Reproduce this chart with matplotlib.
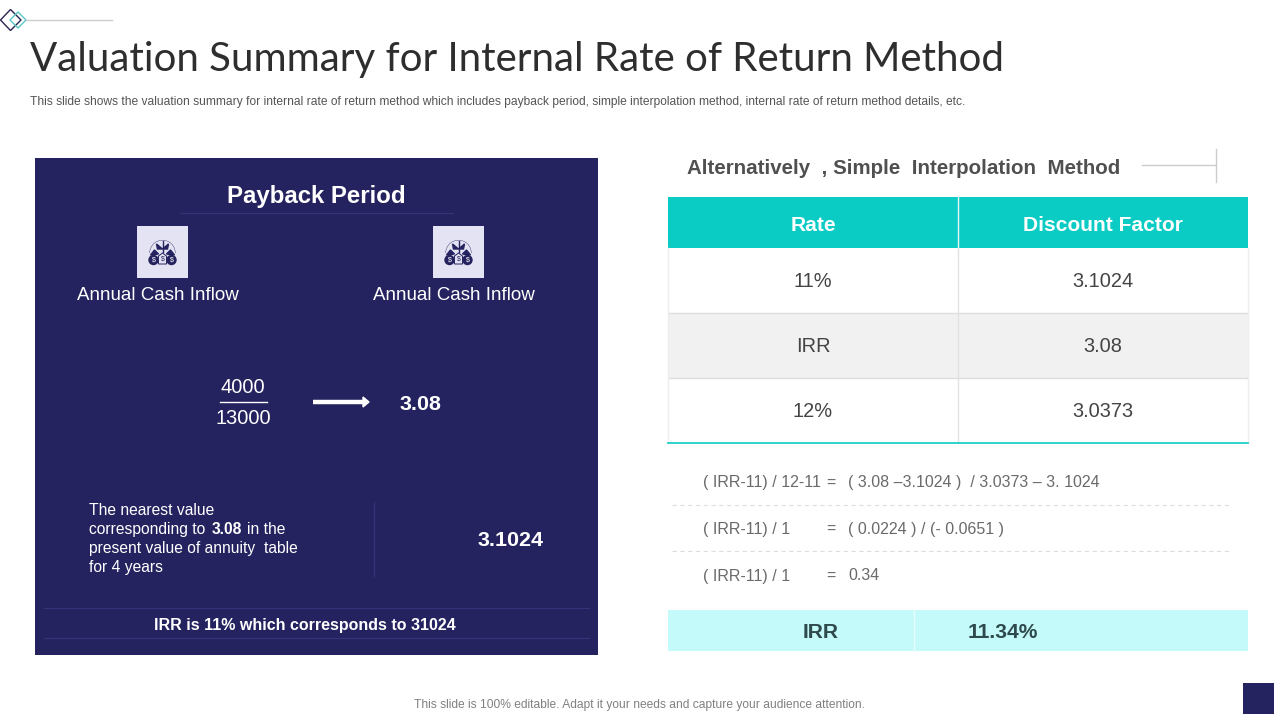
import matplotlib
matplotlib.use("Agg")
import matplotlib.pyplot as plt
from matplotlib.patches import Rectangle, Polygon, Circle, Wedge

NAVY = "#25235f"
TEAL = "#0bcbc5"
GREY = "#555555"

title = "Valuation Summary for Internal Rate of Return Method"
subtitle = ("This slide shows the valuation summary for internal rate of return method which includes "
            "payback period, simple interpolation method, internal rate of return method details, etc.")
footer = "This slide is 100% editable. Adapt it your needs and capture your audience attention."

table_header = ["Rate", "Discount Factor"]
rates = ["11%", "IRR", "12%"]
factors = ["3.1024", "3.08", "3.0373"]

formula_left = ["( IRR-11) / 12-11", "( IRR-11) / 1", "( IRR-11) / 1"]
formula_right = ["( 3.08 \u20133.1024 )  / 3.0373 \u2013 3. 1024", "( 0.0224 ) / (- 0.0651 )", "0.34"]

plt.rcParams["font.family"] = ["Liberation Sans", "DejaVu Sans"]

fig = plt.figure(figsize=(12.8, 7.2), dpi=100)
ax = fig.add_axes([0, 0, 1, 1])
ax.set_xlim(0, 1280)
ax.set_ylim(720, 0)
ax.axis("off")


def px(size):
    return size * 0.72


def label(x, y, s, size=18, color="white", weight="normal", ha="center", **kw):
    # va center sits a bit high for this font
    ax.text(x, y + 1, s, fontsize=px(size), color=color, fontweight=weight, ha=ha, va="center", **kw)


def rect(x, y, w, h, color, z=1):
    ax.add_patch(Rectangle((x, y), w, h, facecolor=color, edgecolor="none", zorder=z))


def icon(x, y):
    # small money plant icon on a pale square
    rect(x, y, 51, 52, "#e3e3f3", 2)
    cx, cy = x + 25.5, y + 27
    ax.add_patch(Wedge((cx, cy), 13, 180, 360, width=0.4, facecolor=NAVY, zorder=3))
    ax.plot([cx, cx], [cy - 12, cy - 1], color=NAVY, lw=1, zorder=3)
    ax.add_patch(Polygon([(cx, cy - 4), (cx - 6, cy - 9), (cx - 5, cy - 4)], color=NAVY, zorder=3))
    ax.add_patch(Polygon([(cx, cy - 4), (cx + 6, cy - 9), (cx + 5, cy - 4)], color=NAVY, zorder=3))
    ax.add_patch(Polygon([(cx - 12, cy + 2), (cx - 8, cy - 3), (cx - 4, cy + 1)], color=NAVY, zorder=3))
    ax.add_patch(Polygon([(cx + 12, cy + 2), (cx + 8, cy - 3), (cx + 4, cy + 1)], color=NAVY, zorder=3))
    for dx in (-9, 9):
        ax.add_patch(Circle((cx + dx, cy + 7), 4.5, color=NAVY, zorder=3))
        ax.text(cx + dx, cy + 7, "$", fontsize=5, color="white", ha="center", va="center", zorder=4)
    ax.add_patch(Polygon([(cx - 4, cy + 11), (cx - 4, cy + 3), (cx, cy), (cx + 4, cy + 3), (cx + 4, cy + 11)],
                         facecolor="#e3e3f3", edgecolor=NAVY, lw=0.7, zorder=3))
    ax.text(cx, cy + 6, "$", fontsize=5, color=NAVY, ha="center", va="center", zorder=4)


# corner mark
ax.add_patch(Polygon([(10.5, 9.5), (21, 20), (10.5, 30.5), (0.5, 20)], fill=False, edgecolor="#2b2550", lw=1))
ax.add_patch(Polygon([(18, 12), (26, 20), (18, 28), (10, 20)], fill=False, edgecolor="#5cc6c6", lw=1))
ax.plot([26, 112], [20, 20], color="#cccccc", lw=1)

# heading
ax.text(30, 59, title, fontsize=px(40.2), color="#2e2e2e", family=["Lato", "DejaVu Sans"], ha="left", va="center")
label(30, 100.5, subtitle, size=12.0, color=GREY, ha="left")
label(639, 704, footer, size=12.0, color="#808080")
rect(1243, 683, 31, 31, NAVY)

# left panel
rect(35, 158, 563, 497, NAVY)
label(316, 195.5, "Payback Period", size=24, weight="bold")
ax.plot([180, 453], [213, 213], color="#35347a", lw=0.8, zorder=2)
for ix, tx in [(137, 158), (433, 454)]:
    icon(ix, 226)
    label(tx, 295, "Annual Cash Inflow", size=18.8)

label(243, 386.5, "4000", size=20)
ax.plot([220, 267], [402, 402], color="white", lw=1, zorder=2)
label(243, 418, "13000", size=20)
ax.plot([313, 363], [402, 402], color="white", lw=3.2, zorder=2, solid_capstyle="butt")
ax.add_patch(Polygon([(363, 397), (369, 402), (363, 407)], color="white", zorder=2))
label(420, 403, "3.08", size=21.5, weight="bold")

label(89, 509.5, "The nearest value", size=15.6, ha="left")
label(89, 528.5, "corresponding to", size=15.6, ha="left")
label(212, 528.5, "3.08", size=15.6, weight="bold", ha="left")
label(247, 528.5, "in the", size=15.6, ha="left")
label(89, 547.5, "present value of annuity  table", size=15.6, ha="left")
label(89, 566.5, "for 4 years", size=15.6, ha="left")
ax.plot([374, 374], [502, 576], color="#35347a", lw=0.8, zorder=2)
label(511, 539, "3.1024", size=21.5, weight="bold")

ax.plot([44, 589], [608, 608], color="#35347a", lw=0.8, zorder=2)
ax.plot([44, 589], [638, 638], color="#35347a", lw=0.8, zorder=2)
label(305, 624.5, "IRR is 11% which corresponds to 31024", size=16, weight="bold")

# right heading
label(687, 167, "Alternatively  , Simple  Interpolation  Method", size=20.5, color="#505050", weight="bold", ha="left")
ax.plot([1142, 1216], [165, 165], color="#cccccc", lw=1)
ax.plot([1216, 1216], [149, 182], color="#cccccc", lw=1)

# table
col_x = [668, 958, 1248]
row_y = [248, 313, 378, 443]
rect(col_x[0], 197, col_x[2] - col_x[0], row_y[0] - 197, TEAL)
ax.plot([col_x[1], col_x[1]], [197, row_y[0]], color="#e8f8f8", lw=1, zorder=2)
label(813, 224.5, table_header[0], size=21, weight="bold")
label(1103, 224.5, table_header[1], size=21, weight="bold")
for i, (rate, factor) in enumerate(zip(rates, factors)):
    top, bottom = row_y[i], row_y[i + 1]
    if i == 1:
        rect(col_x[0], top, col_x[2] - col_x[0], bottom - top, "#f1f1f1")
    if i > 0:
        ax.plot([col_x[0], col_x[2]], [top, top], color="#dddddd", lw=1, zorder=2)
    label(813, (top + bottom) / 2, rate, size=20, color="#444444")
    label(1103, (top + bottom) / 2, factor, size=20, color="#444444")
ax.plot([col_x[1], col_x[1]], [row_y[0], row_y[3]], color="#e2e2e2", lw=1, zorder=2)
ax.plot([col_x[0], col_x[0]], [row_y[0], row_y[3]], color="#eeeeee", lw=1, zorder=2)
ax.plot([col_x[2], col_x[2]], [row_y[0], row_y[3]], color="#eeeeee", lw=1, zorder=2)
ax.plot([col_x[0], col_x[2]], [row_y[3], row_y[3]], color=TEAL, lw=1.2, zorder=3)

# working lines
for y, left, right in zip([482, 528.5, 575], formula_left, formula_right):
    label(703, y, left, size=16, color="#6a6a6a", ha="left")
    label(831, y, "=", size=16, color="#6a6a6a")
    label(848, y, right, size=16, color="#6a6a6a", ha="left")
for y in [505, 551]:
    ax.plot([672, 1232], [y, y], color="#dddddd", lw=0.8, ls=(0, (4, 3)))

# result strip
rect(668, 610, 580, 41, "#c5fafa")
ax.plot([914, 914], [610, 651], color="#e6fdfd", lw=1, zorder=2)
label(821, 632, "IRR", size=21, color="#2f4a4d", weight="bold")
label(1003, 632, "11.34%", size=21, color="#2f4a4d", weight="bold")

fig.savefig("out.png", dpi=100)
